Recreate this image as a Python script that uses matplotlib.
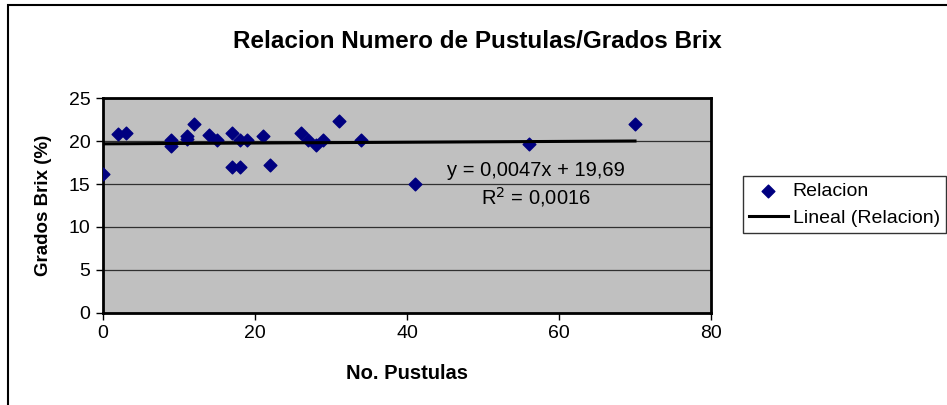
import matplotlib.pyplot as plt
from matplotlib.patches import Rectangle
import numpy as np

plt.rcParams['font.family'] = ['Liberation Sans', 'DejaVu Sans']

# Data
pustulas = [0, 2, 3, 9, 9, 11, 11, 12, 14, 15, 17, 17, 18, 18, 19, 21, 22,
            26, 27, 28, 29, 31, 34, 41, 56, 70]
brix = [16.2, 20.8, 20.9, 20.1, 19.4, 20.6, 20.3, 22.0, 20.7, 20.1, 20.9, 17.0,
        17.0, 20.1, 20.1, 20.6, 17.2, 20.9, 20.1, 19.5, 20.1, 22.3, 20.1, 15.0,
        19.7, 22.0]

# Trend line coefficients (from the chart label)
slope = 0.0047
intercept = 19.69
r2 = 0.0016

x_ticks = [0, 20, 40, 60, 80]
y_ticks = [0, 5, 10, 15, 20, 25]

fig = plt.figure(figsize=(9.47, 4.05), dpi=100)
ax = fig.add_axes([103 / 947, 1 - 312.7 / 405, 608 / 947, 214.4 / 405])

# outer chart border
fig.patches.append(Rectangle((8 / 947, -0.05), 1.0, 1 - 5 / 405 + 0.05,
                             transform=fig.transFigure, fill=False,
                             edgecolor='black', linewidth=1.5))

ax.set_facecolor('#C0C0C0')
ax.set_xlim(0, 80)
ax.set_ylim(0, 25)
ax.set_xticks(x_ticks)
ax.set_yticks(y_ticks)
ax.grid(axis='y', color='#303030', linewidth=0.9)
ax.set_axisbelow(True)

ax.scatter(pustulas, brix, marker='D', s=42, color='#000080', zorder=3,
           label='Relacion')

xs = np.array([min(pustulas), max(pustulas)])
ax.plot(xs, slope * xs + intercept, color='black', linewidth=2.2, zorder=4,
        label='Lineal (Relacion)')

eq = 'y = ' + f'{slope:.4f}'.replace('.', ',') + 'x + ' + f'{intercept:.2f}'.replace('.', ',')
ax.text(57.0, 16.6, eq, ha='center', va='center', fontsize=14.5)
ax.text(57.0, 13.5, 'R$^2$ = ' + f'{r2:.4f}'.replace('.', ','), ha='center',
        va='center', fontsize=14.5)

for side in ax.spines.values():
    side.set_linewidth(2)
    side.set_color('black')

ax.tick_params(direction='out', length=5, width=1, labelsize=14, pad=4)

fig.text(477.6 / 947, 1 - 41.7 / 405, 'Relacion Numero de Pustulas/Grados Brix',
         fontsize=17.5, fontweight='bold', ha='center', va='center')
ax.set_xlabel('No. Pustulas', fontsize=14.5, fontweight='bold', labelpad=16)
ax.set_ylabel('Grados Brix (%)', fontsize=13.5, fontweight='bold', labelpad=12)

leg = ax.legend(loc='center left', bbox_to_anchor=(743 / 947, 1 - 204.5 / 405),
                bbox_transform=fig.transFigure, fontsize=14, frameon=True,
                fancybox=False, edgecolor='black', borderpad=0.3,
                handlelength=2.0, handletextpad=0.25, labelspacing=0.5,
                borderaxespad=0)
leg.get_frame().set_linewidth(1)

fig.savefig('out.png', dpi=100)
